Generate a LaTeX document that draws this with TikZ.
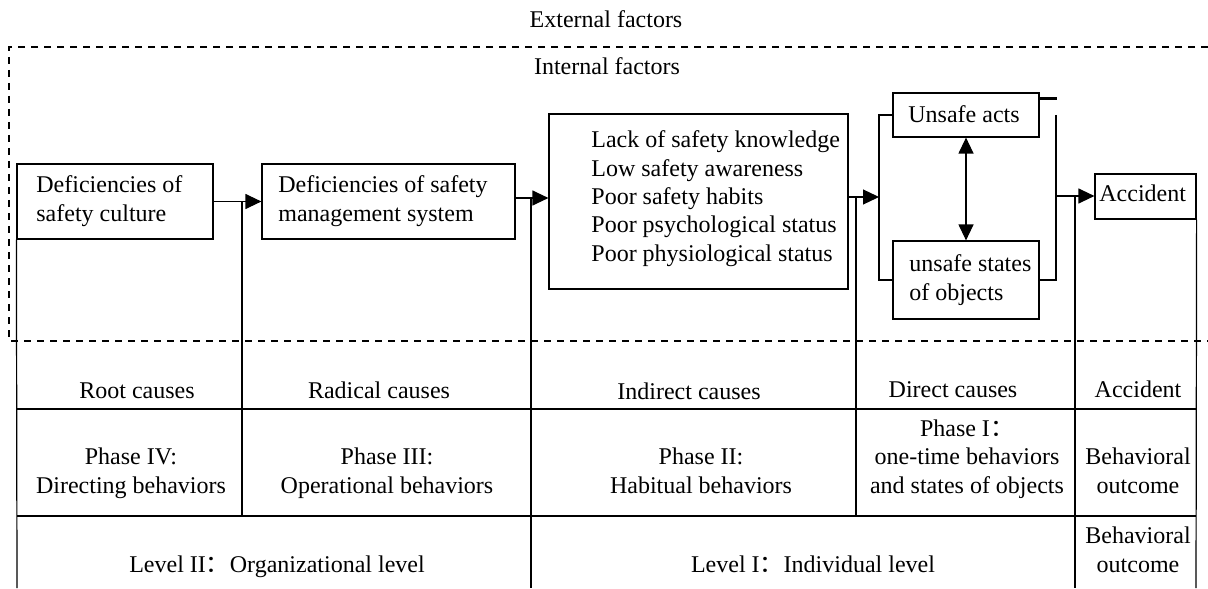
\documentclass[tikz,border=0pt]{standalone}
\usepackage{fontspec}
\setmainfont{Liberation Serif}
\newfontfamily\cjk{Noto Sans CJK SC}
\usetikzlibrary{arrows.meta,fit}

\begin{document}
\begin{tikzpicture}
	[x=0.5pt,y=-0.5pt,every node/.style={font=\fontsize{12}{14.15}\selectfont, inner sep=0pt}]
	\tikzstyle{edges} = [line width=0.6pt];
	\tikzstyle{box} = [draw, edges];
	\tikzstyle{arr} = [edges, -{Triangle[length=8pt,width=7.5pt]}];
	\tikzstyle{txt} = [anchor=base west, align=left];
	\tikzstyle{cell} = [anchor=base, align=center];
	\tikzstyle{border} = [line width=0.9pt, dash pattern=on 3.5pt off 3pt];
	
	\useasboundingbox (0,0) rectangle (1208,588);
	
	% boxes
	\node[box, fit={(17,164) (213,239)}] (cult) {};
	\node[box, fit={(262,164) (515,239)}] (mgmt) {};
	\node[box, fit={(549,114) (848,289)}] (hab) {};
	\node[box, fit={(893,93) (1039,137)}] (acts) {};
	\node[box, fit={(893,241) (1039,319)}] (states) {};
	\node[box, fit={(1095,174) (1196,219)}] (acc) {};
	
	% base = last line
	\node[txt] (cult-t) at (36,221) {Deficiencies of\\safety culture};
	\node[txt] (mgmt-t) at (278,221) {Deficiencies of safety\\management system};
	\node[txt] (hab-t) at (591,261) {Lack of safety knowledge\\Low safety awareness\\Poor safety habits\\Poor psychological status\\Poor physiological status};
	\node[txt] (acts-t) at (908,123) {Unsafe acts};
	\node[txt] (states-t) at (909,300) {unsafe states\\of objects};
	\node[txt] (acc-t) at (1099,202) {Accident};
	
	\coordinate (v1) at (242,202);
	\coordinate (v2) at (531,198);
	\coordinate (v3) at (856,197);
	\coordinate (lb) at (879,197);
	\coordinate (rb) at (1056,196);
	\coordinate (v4) at (1075,196);
	
	% arrows
	\draw[arr] (cult) -- (mgmt);
	\draw[arr] (mgmt.east |- v2) -- (hab.west |- v2);
	\draw[arr] (hab.east |- lb) -- (lb);
	\draw[edges] (acts.west) -| (lb) |- (states.west);
	\draw[edges, {Triangle[length=8pt,width=7.5pt]}-{Triangle[length=8pt,width=7.5pt]}] (acts) -- (states);
	\draw[line width=1.2pt] ([yshift=-3pt]acts.north east) -- ++(17,0);
	\draw[edges] (rb |- acts.west) -- (rb |- states.east) -- (states.east);
	\draw[arr] (rb) -- (acc.west |- rb);
	
	% table
	\draw[edges] (cult.south west) -- (17,588);
	\draw[edges] (acc.south east) -- (1196,588);
	\draw[edges] (v1) -- (242,516);
	\draw[edges] (v2) -- (531,588);
	\draw[edges] (v3) -- (856,516);
	\draw[edges] (v4) -- (1075,588);
	\draw[edges] (17,409) -- (1196,409);
	\draw[edges] (17,516) -- (1196,516);
	
	\draw[border] (1208,47) -- (9,47) -- (9,341) -- (1208,341);
	
	\node[cell] (ext) at (606,28) {External factors};
	\node[cell] (int) at (607,75) {Internal factors};
	
	\node[cell] (root) at (137,398) {Root causes};
	\node[cell] (rad) at (379,398) {Radical causes};
	\node[cell] (ind) at (689,399) {Indirect causes};
	\node[cell] (dir) at (953,397) {Direct causes};
	\node[cell] (acc-c) at (1138,397) {Accident};
	
	\node[cell] (ph4) at (131,493) {Phase IV:\\Directing behaviors};
	\node[cell] (ph3) at (387,493) {Phase III:\\Operational behaviors};
	\node[cell] (ph2) at (701,493) {Phase II:\\Habitual behaviors};
	\node[cell] (ph1) at (967,493) {Phase I{\cjk ：}\\one-time behaviors\\and states of objects};
	\node[cell] (out1) at (1138,493) {Behavioral\\outcome};
	
	\node[cell] (lv2) at (277,572) {Level II{\cjk ：}Organizational level};
	\node[cell] (lv1) at (813,572) {Level I{\cjk ：}Individual level};
	\node[cell] (out2) at (1138,572) {Behavioral\\outcome};
\end{tikzpicture}
\end{document}
